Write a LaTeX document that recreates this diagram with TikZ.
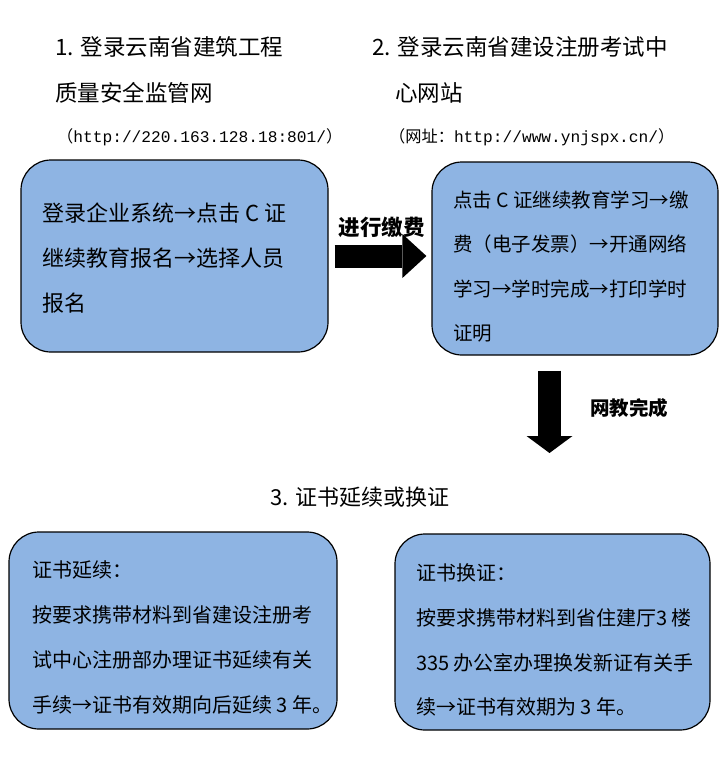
\documentclass[tikz,border=0pt]{standalone}
\usepackage{fontspec}
\setmainfont{Noto Sans CJK SC}
\newfontfamily\urlfont{Liberation Mono}
\usepackage{xcolor}
\usepackage{tikz}
\usetikzlibrary{arrows.meta, calc, positioning}
\definecolor{myblue}{HTML}{8EB4E3}
\tikzstyle{panel} = [rectangle, rounded corners=30pt, draw=black, line width=1.2pt, fill=myblue]
\tikzstyle{bigarrow} = [line width=23pt, black]

\begin{document}
\begin{tikzpicture}[
    x=1pt, y=-1pt,
    title/.style={anchor=north west, inner sep=0pt, align=left, font=\fontsize{22.5}{46}\selectfont},
    addr/.style={anchor=west, inner sep=0pt, font=\fontsize{16.2}{18}\selectfont},
    boxtext/.style={anchor=north west, inner sep=0pt, align=left},
    steplabel/.style={inner sep=0pt, font=\bfseries}]
    \useasboundingbox (0,0) rectangle (723,760);
    % titles
    \node[title] (tt1) at (55,36.5) {1. 登录云南省建筑工程\\质量安全监管网};
    \node[title] (tt2) at (372,36.5) {2. 登录云南省建设注册考试中\\\hspace*{23pt}心网站};
    \node[addr] (u1) at (57,137) {（{\urlfont http://220.163.128.18:801/}）};
    \node[addr] (u2) at (389,137) {（网址：{\urlfont http://www.ynjspx.cn/}）};
    \node[title, anchor=west, font=\fontsize{22}{26}\selectfont] (tt3) at (270,497) {3. 证书延续或换证};
    % boxes
    \node[panel, minimum width=307pt, minimum height=192pt] (b1) at (174.5,256) {};
    \node[panel, minimum width=286pt, minimum height=193pt] (b2) at (575,258.5) {};
    \node[panel, minimum width=328pt, minimum height=197pt] (b3) at (173,630.5) {};
    \node[panel, minimum width=315pt, minimum height=196pt] (b4) at (552.5,632) {};
    \node[boxtext, font=\fontsize{22}{45}\selectfont] (t1) at (42,202.7) {登录企业系统→点击 C 证\\继续教育报名→选择人员\\报名};
    \node[boxtext, font=\fontsize{19.5}{44.3}\selectfont] (t2) at (453,190.8) {点击 C 证继续教育学习→缴\\费（电子发票）→开通网络\\学习→学时完成→打印学时\\证明};
    \node[boxtext, font=\fontsize{20}{45}\selectfont] (t3) at (32,560.6) {证书延续：\\按要求携带材料到省建设注册考\\试中心注册部办理证书延续有关\\手续→证书有效期向后延续 3 年。};
    \node[boxtext, font=\fontsize{20}{44.7}\selectfont] (t4) at (416,563.6) {证书换证：\\按要求携带材料到省住建厅3 楼\\335 办公室办理换发新证有关手\\续→证书有效期为 3 年。};
    % arrows
    \coordinate (netdone) at (549.5,453);
    \draw[bigarrow, -{Triangle[length=24pt, width=44pt, line width=0pt]}, shorten <=6pt, shorten >=5pt]
        (b1.east) -- (b1.east -| b2.west);
    \node[steplabel, font=\bfseries\fontsize{21.5}{24}\selectfont] (pay) at (381.5,227) {进行缴费};
    \draw[bigarrow, -{Triangle[length=17pt, width=46pt, line width=0pt]}, shorten <=15pt]
        (b2.south -| netdone) -- (netdone);
    \node[steplabel, font=\bfseries\fontsize{19.5}{22}\selectfont] (done) at (629,408) {网教完成};
\end{tikzpicture}
\end{document}
